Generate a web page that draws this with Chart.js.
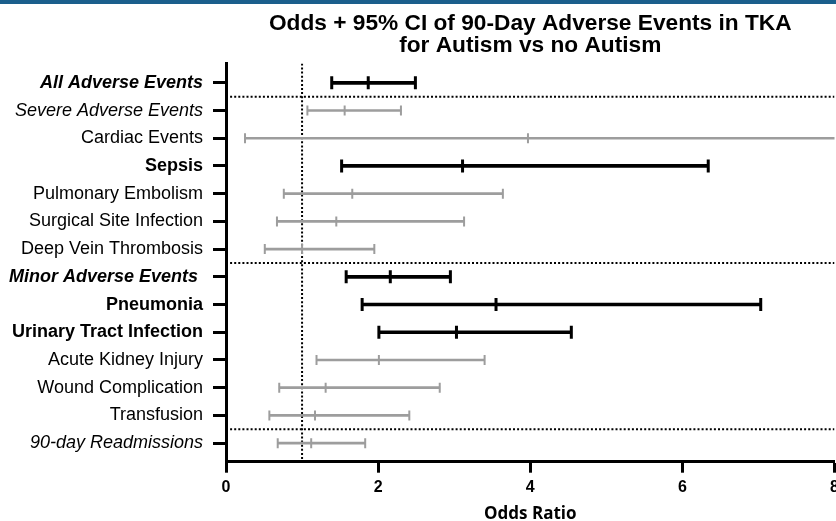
<!DOCTYPE html>
<html>
<head>
<meta charset="utf-8">
<script src="https://cdn.jsdelivr.net/npm/chart.js@4.4.1/dist/chart.umd.min.js"></script>
<style>
  html, body { margin: 0; padding: 0; background: #fff; overflow: hidden; }
  #wrap { position: relative; width: 836px; height: 521px; overflow: hidden; }
  #strip { position: absolute; left: 0; top: 0; width: 836px; height: 4px; background: #1b5f8c; }
</style>
</head>
<body>
<div id="wrap">
  <!-- canvas is a bit wider than the page so the last x label gets cut like in the original -->
  <canvas id="forest" width="844" height="521"></canvas>
  <div id="strip"></div>
</div>
<script>
// Rows, top to bottom
const events = [
  'All Adverse Events',
  'Severe Adverse Events',
  'Cardiac Events',
  'Sepsis',
  'Pulmonary Embolism',
  'Surgical Site Infection',
  'Deep Vein Thrombosis',
  'Minor Adverse Events ',
  'Pneumonia',
  'Urinary Tract Infection',
  'Acute Kidney Injury',
  'Wound Complication',
  'Transfusion',
  '90-day Readmissions'
]
const oddsRatio = [1.87, 1.56, 3.97, 3.11, 1.66, 1.45, 1.00, 2.16, 3.55, 3.03, 2.01, 1.31, 1.17, 1.12]
const ciLow = [1.39, 1.07, 0.25, 1.52, 0.76, 0.67, 0.51, 1.58, 1.79, 2.01, 1.19, 0.70, 0.57, 0.68]
const ciHigh = [2.49, 2.30, 8.30, 6.34, 3.64, 3.13, 1.95, 2.95, 7.03, 4.54, 3.40, 2.81, 2.41, 1.83]
const significant = [true, false, false, true, false, false, false, true, true, true, false, false, false, false]
const labelStyle = ['bi', 'i', '', 'b', '', '', '', 'bi', 'b', 'b', '', '', '', 'i']
const xTicks = [0, 2, 4, 6, 8]
const nullOdds = 1
const groupBreaks = [0.5, 6.5, 12.5]

const BLACK = '#000000'
const GREY = '#9d9d9d'
const FONT = "'Liberation Sans', Arial, sans-serif"

function rowsWhere (flag) {
  return events.map((e, i) => significant[i] === flag ? { x: [ciLow[i], ciHigh[i]], y: i } : null)
    .filter(d => d !== null)
}
function points (vals) {
  return vals.map((v, i) => ({ x: v, y: i }))
}
const colorFor = ctx => significant[ctx.dataIndex] ? BLACK : GREY
const radiusFor = ctx => significant[ctx.dataIndex] ? 6.5 : 5
const widthFor = ctx => significant[ctx.dataIndex] ? 3 : 2

const markerSet = (vals) => ({
  type: 'scatter',
  data: points(vals),
  pointStyle: 'line',
  rotation: 90,
  pointRadius: radiusFor,
  pointBorderWidth: widthFor,
  pointBorderColor: colorFor,
  pointBackgroundColor: colorFor,
  pointHoverRadius: radiusFor
})

const yMin = -0.70
const yMax = 13.67

const dotted = {
  type: 'scatter',
  showLine: true,
  borderColor: BLACK,
  borderWidth: 2,
  borderDash: [2, 2.1],
  pointRadius: 0
}
const dottedSets = [
  Object.assign({}, dotted, { data: [{ x: nullOdds, y: yMin }, { x: nullOdds, y: yMax }] })
].concat(groupBreaks.map(b => Object.assign({}, dotted, {
  data: [{ x: xTicks[0], y: b }, { x: xTicks[xTicks.length - 1], y: b }]
})))

const ctx = document.getElementById('forest').getContext('2d')
const chart = new Chart(ctx, {
  type: 'scatter',
  data: {
    datasets: [
      markerSet(oddsRatio),
      markerSet(ciLow),
      markerSet(ciHigh),
      {
        type: 'bar',
        indexAxis: 'y',
        data: rowsWhere(true),
        backgroundColor: BLACK,
        barThickness: 3,
        grouped: false,
        borderWidth: 0
      },
      {
        type: 'bar',
        indexAxis: 'y',
        data: rowsWhere(false),
        backgroundColor: GREY,
        barThickness: 2,
        grouped: false,
        borderWidth: 0
      }
    ].concat(dottedSets)
  },
  options: {
    responsive: false,
    animation: false,
    layout: { padding: { left: 0, right: 2, top: 0, bottom: 0 } },
    plugins: {
      legend: { display: false },
      tooltip: { enabled: false },
      title: {
        display: true,
        fullSize: false,
        text: ['Odds + 95% CI of 90-Day Adverse Events in TKA', 'for Autism vs no Autism'],
        color: BLACK,
        font: { family: FONT, size: 22.7, weight: 'bold', lineHeight: 1.0 },
        padding: { top: 12, bottom: 6 }
      }
    },
    scales: {
      x: {
        type: 'linear',
        min: 0,
        max: 8,
        offset: false,
        afterBuildTicks: axis => { axis.ticks = xTicks.map(v => ({ value: v })) },
        afterFit: scale => { scale.height = 59.3 },
        border: { display: true, color: BLACK, width: 3 },
        grid: { offset: false, drawOnChartArea: false, drawTicks: true, tickLength: 11, tickWidth: 3, tickColor: BLACK },
        ticks: {
          color: BLACK,
          padding: 5,
          font: { family: FONT, size: 16, weight: 'bold' }
        },
        title: {
          display: true,
          text: 'Odds Ratio',
          color: BLACK,
          font: { family: "'Open Sans', sans-serif", size: 17, weight: 'bold', lineHeight: 0.75 },
          padding: { top: 0, bottom: 0 }
        }
      },
      y: {
        type: 'linear',
        reverse: true,
        min: yMin,
        max: yMax,
        offset: false,
        afterBuildTicks: axis => { axis.ticks = events.map((e, i) => ({ value: i })) },
        afterFit: scale => { scale.width = 226 },
        border: { display: true, color: BLACK, width: 3 },
        grid: { offset: false, drawOnChartArea: false, drawTicks: true, tickLength: 13, tickWidth: 3, tickColor: BLACK },
        ticks: {
          color: BLACK,
          padding: 10,
          callback: (v) => events[v],
          font: c => {
            const s = labelStyle[c.index] || ''
            return {
              family: FONT,
              size: 18,
              weight: s.indexOf('b') >= 0 ? 'bold' : 'normal',
              style: s.indexOf('i') >= 0 ? 'italic' : 'normal'
            }
          }
        }
      }
    }
  }
})
</script>
</body>
</html>
